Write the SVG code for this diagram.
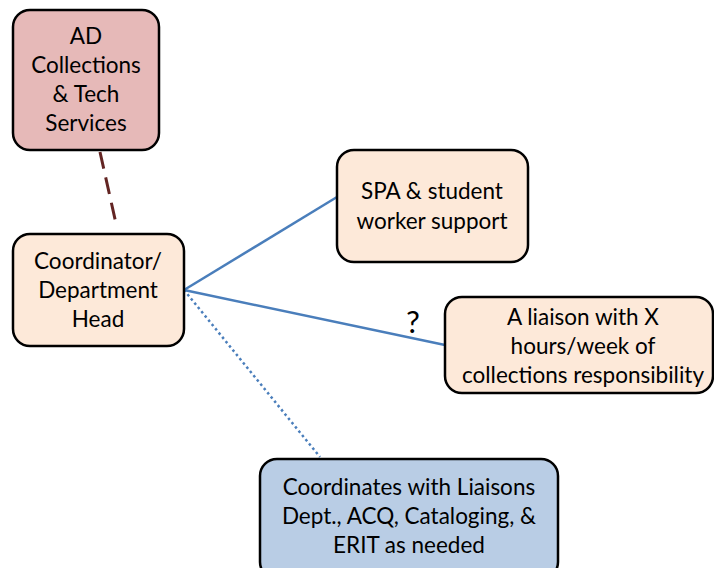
<svg xmlns="http://www.w3.org/2000/svg" width="714" height="568" viewBox="0 0 714 568">
<style>
.box{stroke:#000;stroke-width:2.5}
.t{font-family:Lato,"Open Sans","Liberation Sans",sans-serif;font-size:22.5px;fill:#000;text-anchor:middle}
.q{font-family:Lato,"Open Sans","Liberation Sans",sans-serif;font-size:31px;fill:#000;text-anchor:middle}
.blue{stroke:#4a7ebb;stroke-width:2.5;fill:none}
</style>
<rect width="714" height="568" fill="#fff"/>
<g id="connectors">
<line x1="100" y1="152" x2="117" y2="228" stroke="#632523" stroke-width="3" stroke-dasharray="17,9"/>
<line class="blue" x1="184" y1="290" x2="337" y2="197"/>
<line class="blue" x1="184" y1="290" x2="445" y2="345"/>
<line class="blue" x1="184" y1="290" x2="320" y2="457" stroke-dasharray="2.5,3"/>
<text class="q" x="413" y="333">?</text>
</g>
<g id="ad">
<rect class="box" x="13" y="10" width="146" height="140" rx="17" fill="#e6b9b8"/>
<text class="t" x="86" y="44">AD</text>
<text class="t" x="86" y="73">Collections</text>
<text class="t" x="86" y="102">&amp; Tech</text>
<text class="t" x="86" y="131">Services</text>
</g>
<g id="coord">
<rect class="box" x="13" y="234" width="171" height="112" rx="17" fill="#fde9d9"/>
<text class="t" x="98" y="269">Coordinator/</text>
<text class="t" x="98" y="298">Department</text>
<text class="t" x="98" y="327">Head</text>
</g>
<g id="spa">
<rect class="box" x="337" y="150" width="191" height="112" rx="17" fill="#fde9d9"/>
<text class="t" x="432" y="199">SPA &amp; student</text>
<text class="t" x="432" y="229">worker support</text>
</g>
<g id="liaison">
<rect class="box" x="445" y="297" width="268" height="96" rx="17" fill="#fde9d9"/>
<text class="t" x="583" y="325">A liaison with X</text>
<text class="t" x="583" y="354">hours/week of</text>
<text class="t" x="583" y="383">collections responsibility</text>
</g>
<g id="coordinates">
<rect class="box" x="260" y="459" width="298" height="120" rx="17" fill="#b9cde5"/>
<text class="t" x="409" y="495">Coordinates with Liaisons</text>
<text class="t" x="409" y="524">Dept., ACQ, Cataloging, &amp;</text>
<text class="t" x="409" y="553">ERIT as needed</text>
</g>
</svg>
